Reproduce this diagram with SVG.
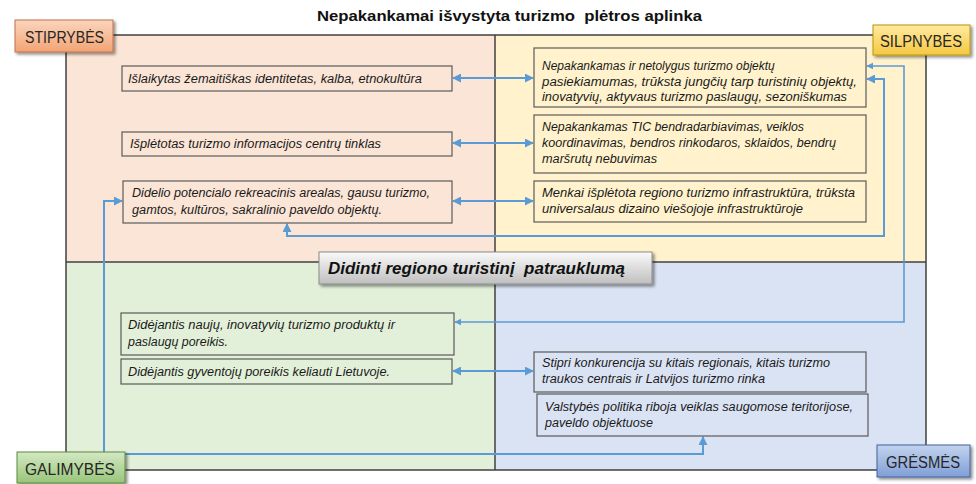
<svg xmlns="http://www.w3.org/2000/svg" width="976" height="484" viewBox="0 0 976 484">
<defs>
<style>
.t{font-family:"Liberation Sans",Arial,sans-serif;font-style:italic;font-size:12px;fill:#1a1a1a}
.box{stroke:#5a5a5a;stroke-width:1.2}
.lbl{font-family:"Liberation Sans",Arial,sans-serif;font-size:16px;fill:#262626}
.frame{stroke:#404040;stroke-width:1.5;fill:none}
.conn{stroke:#5b9bd5;stroke-width:2;fill:none;marker-start:url(#ah);marker-end:url(#ah)}
</style>
<marker id="ah" viewBox="0 0 10 10" refX="9" refY="5" markerWidth="4.5" markerHeight="4.5" orient="auto-start-reverse" markerUnits="strokeWidth">
<path d="M0,0 L10,5 L0,10 z" fill="#5b9bd5"/>
</marker>
<filter id="sh" x="-10%" y="-20%" width="130%" height="160%">
<feDropShadow dx="2" dy="2" stdDeviation="1.5" flood-color="#000" flood-opacity="0.45"/>
</filter>
<linearGradient id="gS" x1="0" y1="0" x2="0" y2="1"><stop offset="0" stop-color="#fbd5bd"/><stop offset="1" stop-color="#f2a474"/></linearGradient>
<linearGradient id="gW" x1="0" y1="0" x2="0" y2="1"><stop offset="0" stop-color="#ffeaa0"/><stop offset="1" stop-color="#f5c842"/></linearGradient>
<linearGradient id="gO" x1="0" y1="0" x2="0" y2="1"><stop offset="0" stop-color="#d3e8c3"/><stop offset="1" stop-color="#98c57a"/></linearGradient>
<linearGradient id="gT" x1="0" y1="0" x2="0" y2="1"><stop offset="0" stop-color="#c3d3ee"/><stop offset="1" stop-color="#809fd6"/></linearGradient>
<linearGradient id="gC" x1="0" y1="0" x2="0" y2="1"><stop offset="0" stop-color="#fafafa"/><stop offset="1" stop-color="#bfbfbf"/></linearGradient>
</defs>
<rect width="976" height="484" fill="#ffffff"/>

<g id="title">
<text x="317" y="21" xml:space="preserve" font-family="Liberation Sans,Arial,sans-serif" font-weight="bold" font-size="14" fill="#111" textLength="385" lengthAdjust="spacingAndGlyphs">Nepakankamai išvystyta turizmo  plėtros aplinka</text>
</g>

<g id="quadrants">
<rect x="66" y="35" width="429" height="227" fill="#fbe5d6"/>
<rect x="495" y="35" width="431" height="227" fill="#fff2cc"/>
<rect x="66" y="262" width="429" height="208" fill="#e2f0d9"/>
<rect x="495" y="262" width="431" height="208" fill="#dae3f3"/>
<rect x="66" y="35" width="860" height="435" class="frame"/>
<line x1="495" y1="35" x2="495" y2="470" class="frame"/>
<line x1="66" y1="262" x2="926" y2="262" class="frame"/>
</g>

<g id="connectors">
<line x1="453" y1="78" x2="533" y2="78" class="conn"/>
<line x1="453" y1="143" x2="533" y2="143" class="conn"/>
<line x1="453" y1="201" x2="533" y2="201" class="conn"/>
<line x1="453" y1="371" x2="533" y2="371" class="conn"/>
<path d="M287,224 V236 H884 V79 H867" class="conn"/>
<path d="M867,66 H904 V322 H455" class="conn" style="stroke-width:1.6"/>
<path d="M122,201 H104 V454 H703 V437" class="conn"/>
</g>

<g id="s1"><rect x="122" y="66" width="330" height="25" fill="#fbe5d6" class="box"/>
<text class="t" x="128" y="83" textLength="294" lengthAdjust="spacingAndGlyphs">Išlaikytas žemaitiškas identitetas, kalba, etnokultūra</text></g>
<g id="s2"><rect x="122" y="132" width="330" height="24" fill="#fbe5d6" class="box"/>
<text class="t" x="130" y="148" textLength="251" lengthAdjust="spacingAndGlyphs">Išplėtotas turizmo informacijos centrų tinklas</text></g>
<g id="s3"><rect x="123" y="181" width="329" height="42" fill="#fbe5d6" class="box"/>
<text class="t" x="132" y="197" textLength="298" lengthAdjust="spacingAndGlyphs">Didelio potencialo rekreacinis arealas, gausu turizmo,</text>
<text class="t" x="132" y="214" textLength="250" lengthAdjust="spacingAndGlyphs">gamtos, kultūros, sakralinio paveldo objektų.</text></g>

<g id="w1"><rect x="534" y="48" width="332" height="59" fill="#fff2cc" class="box"/>
<text class="t" x="542" y="70">Nepakankamas ir netolygus turizmo objektų</text>
<text class="t" x="542" y="86" textLength="315" lengthAdjust="spacingAndGlyphs">pasiekiamumas, trūksta jungčių tarp turistinių objektų,</text>
<text class="t" x="542" y="101" textLength="305" lengthAdjust="spacingAndGlyphs">inovatyvių, aktyvaus turizmo paslaugų, sezoniškumas</text></g>
<g id="w2"><rect x="534" y="115" width="332" height="58" fill="#fff2cc" class="box"/>
<text class="t" x="542" y="131" textLength="262" lengthAdjust="spacingAndGlyphs">Nepakankamas TIC bendradarbiavimas, veiklos</text>
<text class="t" x="542" y="147" textLength="294" lengthAdjust="spacingAndGlyphs">koordinavimas, bendros rinkodaros, sklaidos, bendrų</text>
<text class="t" x="542" y="163" textLength="115" lengthAdjust="spacingAndGlyphs">maršrutų nebuvimas</text></g>
<g id="w3"><rect x="534" y="181" width="332" height="41" fill="#fff2cc" class="box"/>
<text class="t" x="542" y="197" textLength="313" lengthAdjust="spacingAndGlyphs">Menkai išplėtota regiono turizmo infrastruktūra, trūksta</text>
<text class="t" x="542" y="213" textLength="261" lengthAdjust="spacingAndGlyphs">universalaus dizaino viešojoje infrastruktūroje</text></g>

<g id="o1"><rect x="121" y="313" width="333" height="42" fill="#e2f0d9" class="box"/>
<text class="t" x="128" y="329" textLength="267" lengthAdjust="spacingAndGlyphs">Didėjantis naujų, inovatyvių turizmo produktų ir</text>
<text class="t" x="128" y="346" textLength="100" lengthAdjust="spacingAndGlyphs">paslaugų poreikis.</text></g>
<g id="o2"><rect x="121" y="359" width="331" height="25" fill="#e2f0d9" class="box"/>
<text class="t" x="128" y="376" textLength="262" lengthAdjust="spacingAndGlyphs">Didėjantis gyventojų poreikis keliauti Lietuvoje.</text></g>

<g id="t1"><rect x="534" y="352" width="332" height="40" fill="#dae3f3" class="box"/>
<text class="t" x="542" y="367" textLength="288" lengthAdjust="spacingAndGlyphs">Stipri konkurencija su kitais regionais, kitais turizmo</text>
<text class="t" x="542" y="383" textLength="223" lengthAdjust="spacingAndGlyphs">traukos centrais ir Latvijos turizmo rinka</text></g>
<g id="t2"><rect x="537" y="394" width="331" height="42" fill="#dae3f3" class="box"/>
<text class="t" x="545" y="411" textLength="308" lengthAdjust="spacingAndGlyphs">Valstybės politika riboja veiklas saugomose teritorijose,</text>
<text class="t" x="545" y="427" textLength="108" lengthAdjust="spacingAndGlyphs">paveldo objektuose</text></g>

<g id="center"><rect x="319" y="252" width="333" height="32" fill="url(#gC)" stroke="#8c8c8c" stroke-width="1" filter="url(#sh)"/>
<text x="328" y="274" xml:space="preserve" font-family="Liberation Sans,Arial,sans-serif" font-weight="bold" font-style="italic" font-size="17" fill="#111" textLength="297" lengthAdjust="spacingAndGlyphs">Didinti regiono turistinį  patrauklumą</text></g>

<g id="lbl-s"><rect x="15" y="20" width="98" height="32" fill="url(#gS)" stroke="#c0704a" stroke-width="1" filter="url(#sh)"/>
<text class="lbl" x="25" y="43" textLength="79" lengthAdjust="spacingAndGlyphs">STIPRYBĖS</text></g>
<g id="lbl-w"><rect x="873" y="25" width="97" height="30" fill="url(#gW)" stroke="#b8960c" stroke-width="1" filter="url(#sh)"/>
<text class="lbl" x="880" y="47" textLength="82" lengthAdjust="spacingAndGlyphs">SILPNYBĖS</text></g>
<g id="lbl-o"><rect x="17" y="452" width="108" height="31" fill="url(#gO)" stroke="#5e8c3f" stroke-width="1" filter="url(#sh)"/>
<text class="lbl" x="25" y="475" textLength="90" lengthAdjust="spacingAndGlyphs">GALIMYBĖS</text></g>
<g id="lbl-t"><rect x="877" y="445" width="93" height="32" fill="url(#gT)" stroke="#41639e" stroke-width="1" filter="url(#sh)"/>
<text class="lbl" x="886" y="468" textLength="74" lengthAdjust="spacingAndGlyphs">GRĖSMĖS</text></g>
</svg>
